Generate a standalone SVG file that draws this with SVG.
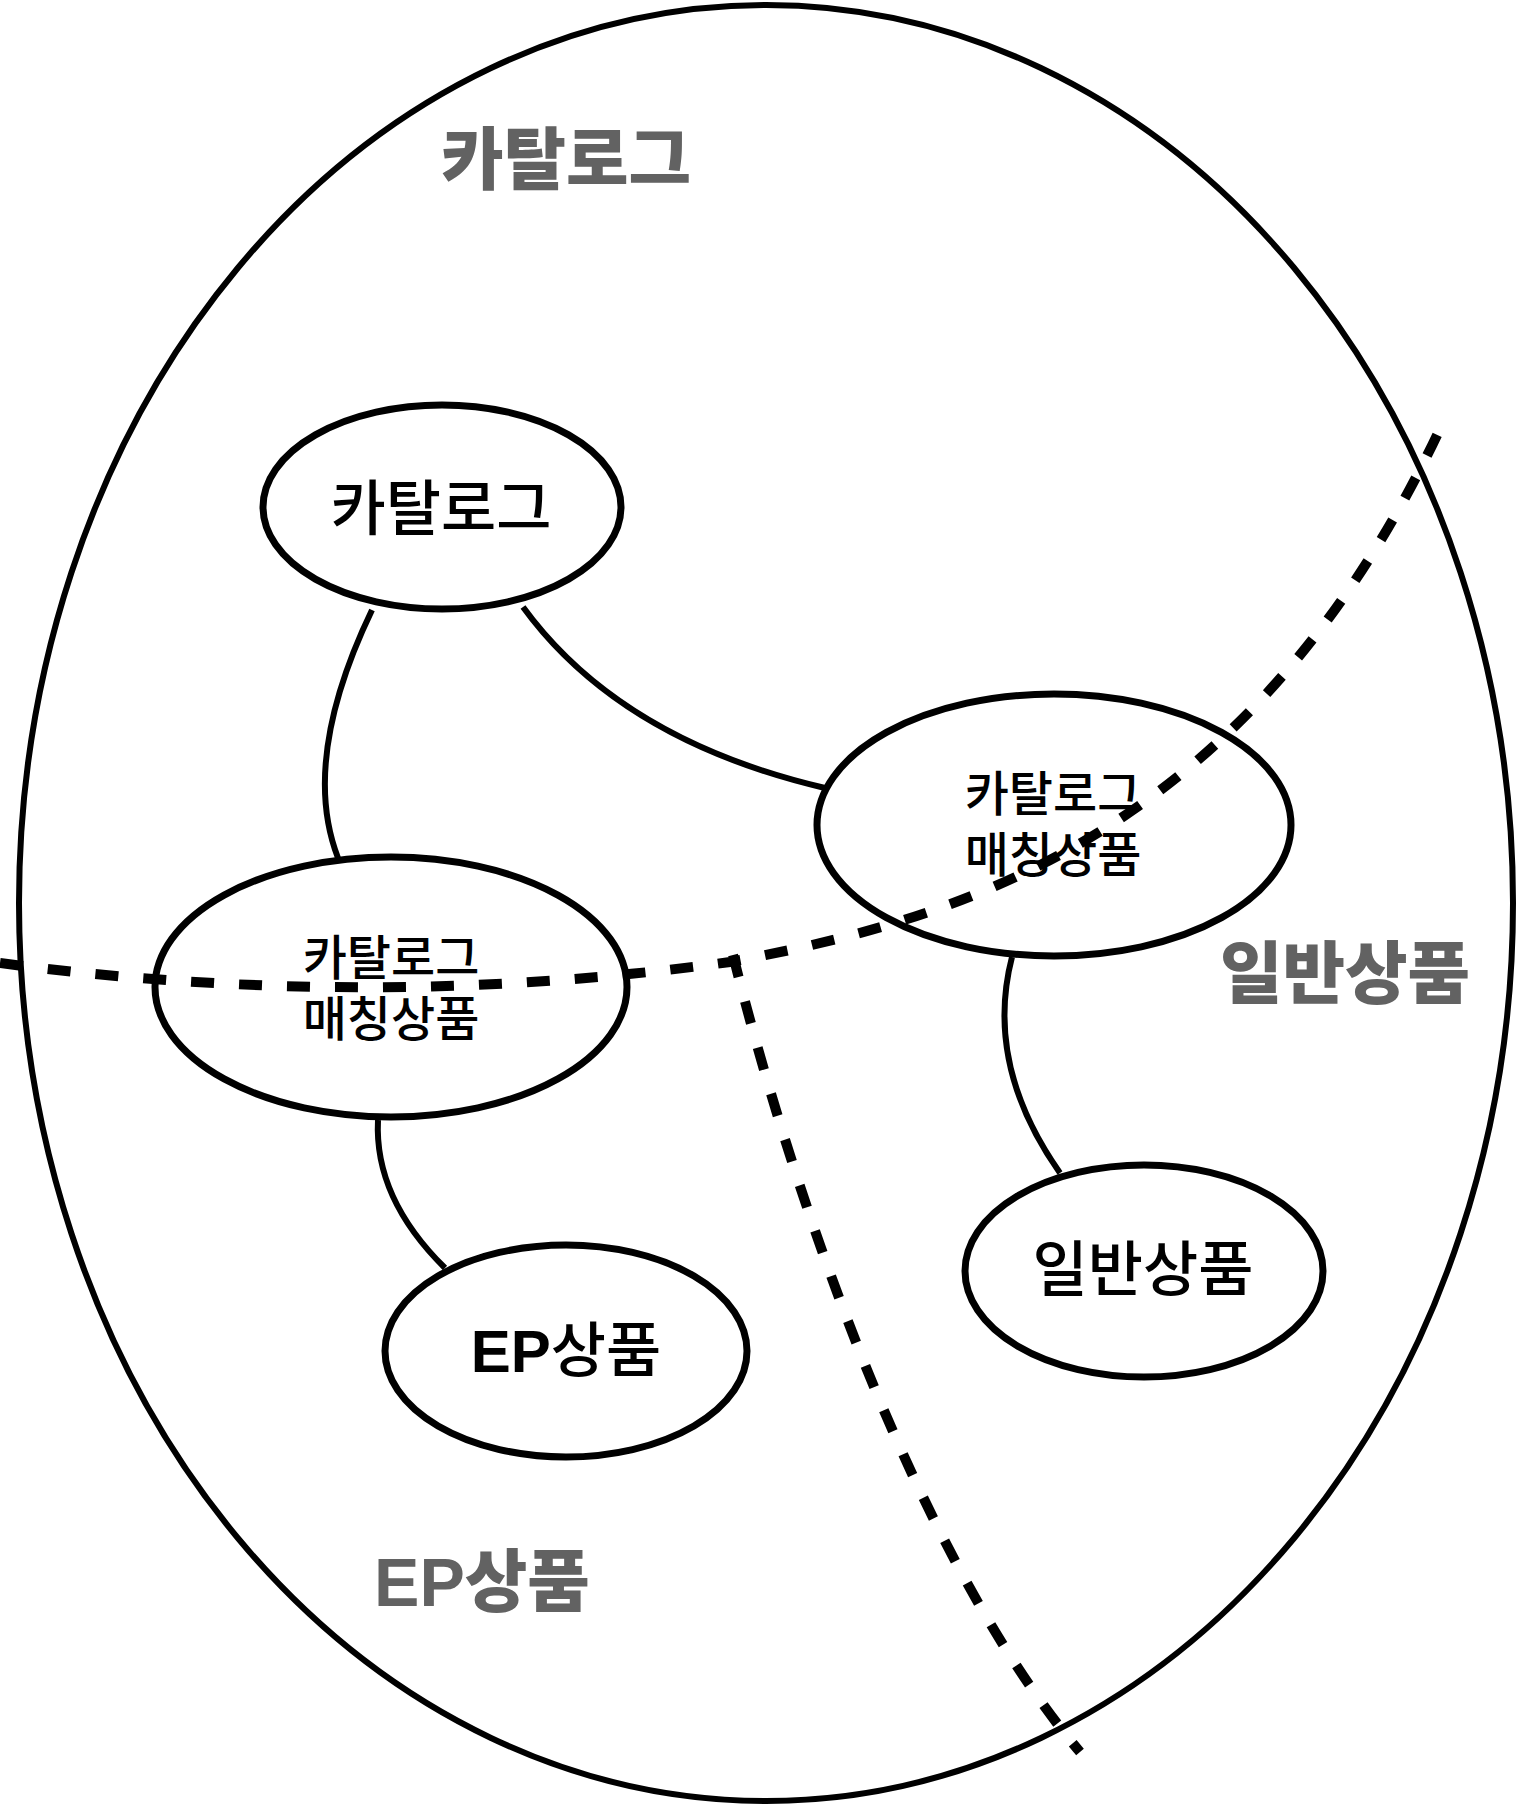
<svg xmlns="http://www.w3.org/2000/svg" width="1520" height="1808" viewBox="0 0 1520 1808">
<style>
.outer{fill:none;stroke:#000;stroke-width:6}
.node{fill:#fff;stroke:#000;stroke-width:7}
.conn{fill:none;stroke:#000;stroke-width:6}
.dash{fill:none;stroke:#000;stroke-width:10;stroke-dasharray:23 25;stroke-linecap:butt}
.nt{font-family:"Noto Sans CJK KR","Noto Sans",sans-serif;font-weight:500;fill:#000;text-anchor:middle}
.gl{font-family:"Noto Sans CJK KR",sans-serif;font-weight:900;fill:#626262;text-anchor:middle;font-size:68px}
.lat{font-family:"Liberation Sans",sans-serif;font-weight:bold}
</style>
<rect width="1520" height="1808" fill="#fff"/>
<g id="region-outer">
<ellipse class="outer" cx="766" cy="903" rx="747" ry="898"/>
</g>
<g id="region-labels">
<text class="gl" x="566" y="184">카탈로그</text>
<text class="gl" x="1345" y="998">일반상품</text>
<text class="gl" x="482" y="1606"><tspan class="lat">EP</tspan>상품</text>
</g>
<g id="connectors">
<path class="conn" d="M372,610 Q300,760 338,858"/>
<path class="conn" d="M523,607 Q620,740 825,788"/>
<path class="conn" d="M1012,957 Q984,1065 1060,1173"/>
<path class="conn" d="M378,1120 Q374,1198 445,1268"/>
</g>
<g id="node-catalog">
<ellipse class="node" cx="442" cy="507" rx="179" ry="102"/>
<text class="nt" x="441" y="530" font-size="60">카탈로그</text>
</g>
<g id="node-matched-right">
<ellipse class="node" cx="1054" cy="825" rx="237" ry="131"/>
<text class="nt" x="1053" y="811" font-size="48">카탈로그</text>
<text class="nt" x="1053" y="872" font-size="48">매칭상품</text>
</g>
<g id="node-matched-left">
<ellipse class="node" cx="391" cy="987" rx="236" ry="130"/>
<text class="nt" x="391" y="975" font-size="48">카탈로그</text>
<text class="nt" x="391" y="1036" font-size="48">매칭상품</text>
</g>
<g id="node-ep">
<ellipse class="node" cx="566" cy="1351" rx="181" ry="106"/>
<text class="nt" x="566" y="1372" font-size="60"><tspan class="lat">EP</tspan>상품</text>
</g>
<g id="node-general">
<ellipse class="node" cx="1144" cy="1271" rx="179" ry="106"/>
<text class="nt" x="1143" y="1291" font-size="60">일반상품</text>
</g>
<g id="dividers">
<path class="dash" d="M0,963 Q370,1012 730,962 C954,920 1246,839 1438,433"/>
<path class="dash" d="M733,955 C793,1195 915,1556 1080,1752"/>
</g>
</svg>
